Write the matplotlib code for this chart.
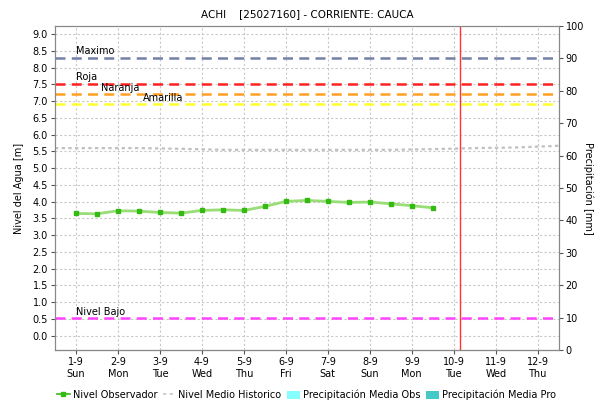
import numpy as np
import matplotlib
matplotlib.use('Agg')
import matplotlib.pyplot as plt
from matplotlib.lines import Line2D
from matplotlib.patches import Patch

plt.rcParams['font.family'] = ['DejaVu Sans']
plt.rcParams['font.size'] = 7

# datos
dias = ['1-9\nSun', '2-9\nMon', '3-9\nTue', '4-9\nWed', '5-9\nThu', '6-9\nFri',
        '7-9\nSat', '8-9\nSun', '9-9\nMon', '10-9\nTue', '11-9\nWed', '12-9\nThu']
obs_x = [0, 0.5, 1, 1.5, 2, 2.5, 3, 3.5, 4, 4.5, 5, 5.5, 6, 6.5, 7, 7.5, 8, 8.5]
obs_nivel = [3.65, 3.64, 3.73, 3.72, 3.68, 3.66, 3.74, 3.76, 3.74,
             3.86, 4.01, 4.04, 4.01, 3.98, 3.99, 3.94, 3.88, 3.82]
hist_x = [-0.5, 0.5, 1.5, 2.5, 3.5, 4.5, 5.5, 6.5, 7.5, 8.5, 9.5, 10.5, 11.5]
hist_nivel = [5.60, 5.60, 5.60, 5.58, 5.55, 5.55, 5.55, 5.55, 5.55, 5.57, 5.60, 5.62, 5.67]
umbrales = {'Maximo': 8.30, 'Roja': 7.52, 'Naranja': 7.22, 'Amarilla': 6.92, 'Nivel Bajo': 0.53}
umbral_col = {'Maximo': '#7480a8', 'Roja': '#ff2020', 'Naranja': '#ffa020',
              'Amarilla': '#ffff30', 'Nivel Bajo': '#ff44ff'}
umbral_txt_x = {'Maximo': 0, 'Roja': 0, 'Naranja': 0.6, 'Amarilla': 1.6, 'Nivel Bajo': 0}
ahora = 9.15

fig = plt.figure(figsize=(5.95, 4.03), dpi=100)
ax = fig.add_axes([0.0924, 0.1303, 0.8466, 0.8064])
ax2 = ax.twinx()

ax.set_xlim(-0.5, 11.5)
ax.set_ylim(-0.44, 9.26)
ax2.set_ylim(0, 100)

ax.set_xticks(range(len(dias)))
ax.set_xticklabels(dias)
ax.set_yticks(np.arange(0, 9.01, 0.5))
ax.set_yticklabels(['%.1f' % v for v in np.arange(0, 9.01, 0.5)])
ax2.set_yticks(range(0, 101, 10))

ax.grid(True, color='#c8c8c8', linestyle=(0, (2, 2)), linewidth=0.8)
ax.set_axisbelow(True)

for nombre, val in umbrales.items():
    ax.axhline(val, color=umbral_col[nombre], linestyle=(0, (4, 2.5)), linewidth=1.8, zorder=2)
    ax.text(umbral_txt_x[nombre], val + 0.04, nombre, fontsize=7, va='bottom', ha='left', zorder=4)

ax.plot(hist_x, hist_nivel, color='#c0c0c0', linestyle=(0, (1.5, 1.5)), linewidth=1.6, zorder=2)
ax.plot(obs_x, obs_nivel, color='#99dd77', linewidth=2, zorder=3)
ax.plot(obs_x, obs_nivel, linestyle='none', marker='s', markersize=3, color='#33bb11', zorder=4)
ax.axvline(ahora, color='#ff3333', linewidth=1, zorder=3)

for a in (ax, ax2):
    for s in a.spines.values():
        s.set_color('#888888')
    a.tick_params(length=3, width=0.8, color='#555555', labelsize=7, pad=2)
ax.spines['bottom'].set_color('#333333')
ax.spines['bottom'].set_linestyle((0, (1, 1)))

ax.set_ylabel('Nivel del Agua [m]', fontsize=7, labelpad=6)
ax2.set_ylabel('Precipitación [mm]', fontsize=7, rotation=270, labelpad=7)
ax.set_title('ACHI    [25027160] - CORRIENTE: CAUCA', fontsize=7.5, pad=6)

handles = [Line2D([], [], color='#33bb11', marker='s', markersize=3, linewidth=1.2),
           Line2D([], [], color='#c8c8c8', linestyle=(0, (2, 2)), linewidth=1.2),
           Patch(facecolor='#88ffff', edgecolor='none'),
           Patch(facecolor='#44c8c8', edgecolor='none')]
etiquetas = ['Nivel Observador', 'Nivel Medio Historico', 'Precipitación Media Obs', 'Precipitación Media Pro']
fig.legend(handles, etiquetas, loc='center', bbox_to_anchor=(0.515, 0.02), ncol=4, frameon=False,
           fontsize=7, handlelength=1.3, handletextpad=0.3, columnspacing=0.6, handleheight=1.0)

fig.savefig('out.png', dpi=100)
